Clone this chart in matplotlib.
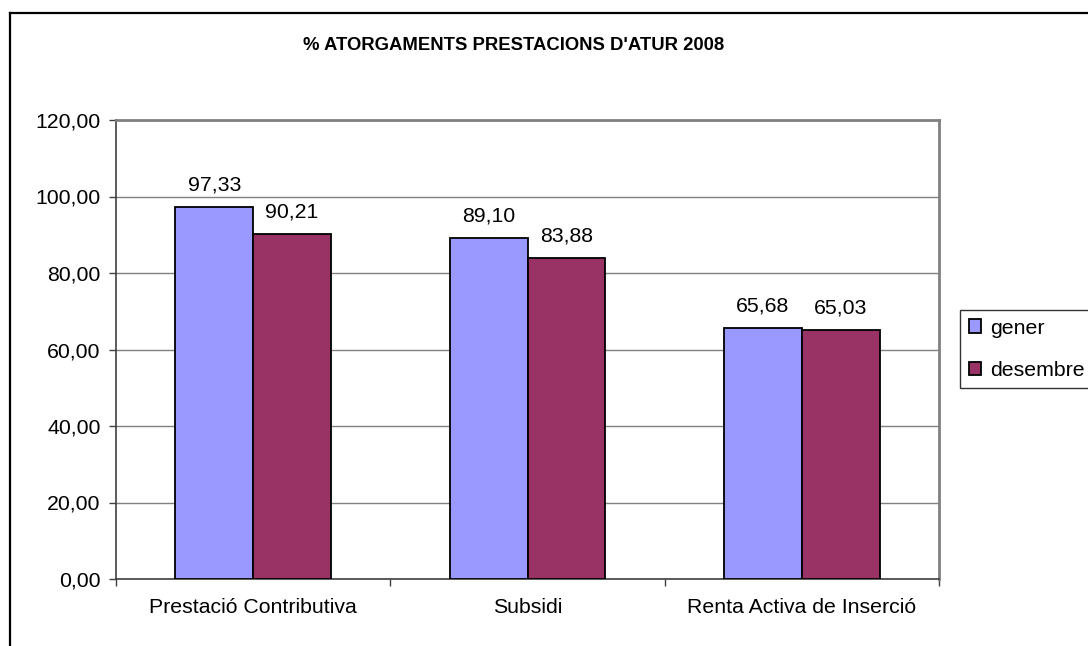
import matplotlib
matplotlib.use("Agg")
import matplotlib.pyplot as plt
import numpy as np
from matplotlib.lines import Line2D

categories = ["Prestació Contributiva", "Subsidi", "Renta Activa de Inserció"]
series_names = ["gener", "desembre"]
gener = [97.33, 89.10, 65.68]
desembre = [90.21, 83.88, 65.03]
yticks = [0, 20, 40, 60, 80, 100, 120]
title = "% ATORGAMENTS PRESTACIONS D'ATUR 2008"

colors = ["#9999FF", "#993366"]

plt.rcParams['font.family'] = ['Liberation Sans', 'DejaVu Sans']

W, H = 1088, 646
fig = plt.figure(figsize=(W/100, H/100), dpi=100)
fig.patch.set_facecolor("white")

# outer chart border (only top and left visible)
fig.add_artist(Line2D([9.5/W, 9.5/W], [0, 1 - 13/H], color="black", lw=1.6, transform=fig.transFigure))
fig.add_artist(Line2D([9.5/W, 1], [1 - 13/H, 1 - 13/H], color="black", lw=1.6, transform=fig.transFigure))

left, right, top, bottom = 116, 939, 120, 579
ax = fig.add_axes([left/W, 1 - bottom/H, (right-left)/W, (bottom-top)/H])

fs = 15.3
x = np.arange(len(categories))
bw = 0.284
for i, (vals, name) in enumerate(zip([gener, desembre], series_names)):
    pos = x + (i - 0.5) * bw
    ax.bar(pos, vals, width=bw, color=colors[i], edgecolor="black", linewidth=1.3,
           label=name, zorder=3)
    for p, v in zip(pos, vals):
        ax.text(p, v + 3.3, f"{v:.2f}".replace(".", ","), ha="center", va="bottom",
                fontsize=fs, zorder=4)

ax.set_xlim(-0.5, len(categories) - 0.5)
ax.set_ylim(0, 120)
ax.set_yticks(yticks)
ax.set_yticklabels([f"{t:.2f}".replace(".", ",") for t in yticks], fontsize=fs)
ax.yaxis.grid(True, color="#808080", lw=1.0, zorder=0)
ax.set_axisbelow(True)

ax.set_xticks(x)
ax.set_xticklabels(categories, fontsize=fs)
ax.tick_params(axis="x", length=0, pad=14)
ax.set_xticks(np.arange(len(categories) + 1) - 0.5, minor=True)
ax.tick_params(axis="x", which="minor", length=5, color="#404040", width=1)
ax.tick_params(axis="y", length=5, color="#404040", width=1, pad=6)

for s in ["top", "right"]:
    ax.spines[s].set_color("#808080")
    ax.spines[s].set_linewidth(2)
for s in ["left", "bottom"]:
    ax.spines[s].set_color("#404040")
    ax.spines[s].set_linewidth(1.2)

fig.text(514/W, 1 - 45/H, title, fontsize=13.3, fontweight="bold", ha="center", va="center")

leg = fig.legend(loc="upper left", bbox_to_anchor=(960/W, 1 - 310/H), frameon=True,
                 fontsize=fs, fancybox=False, edgecolor="black", handlelength=0.6,
                 handleheight=0.6, handletextpad=0.4, borderpad=0.4, labelspacing=1.1,
                 borderaxespad=0)
leg.get_frame().set_linewidth(1.0)

fig.savefig("out.png", dpi=100)
